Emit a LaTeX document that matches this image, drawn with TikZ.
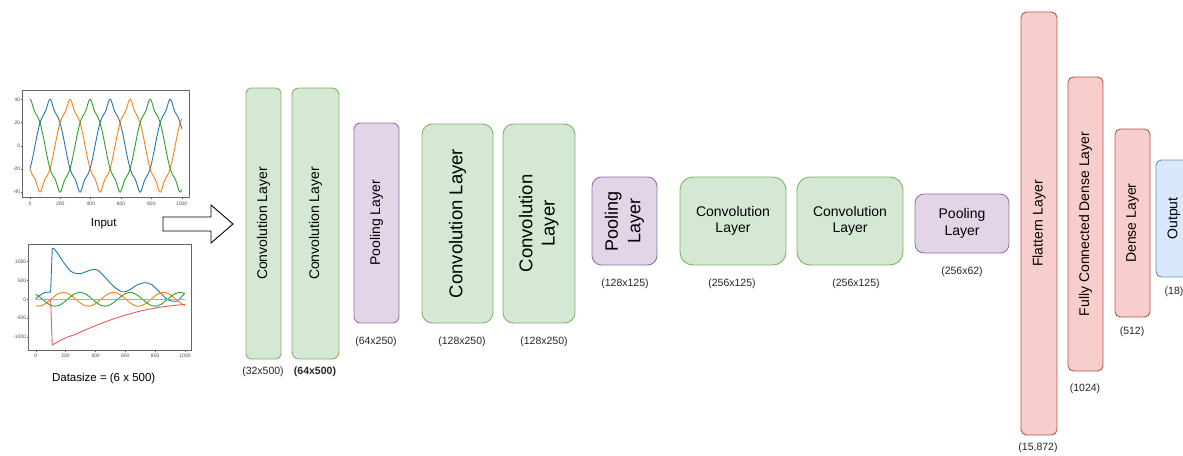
\documentclass[tikz,border=0pt]{standalone}
\usepackage{fontspec}
\setmainfont{Liberation Sans}
\usetikzlibrary{calc}
\definecolor{cfill}{HTML}{D5E8D4}\definecolor{cline}{HTML}{82B366}
\definecolor{pfill}{HTML}{E1D5E7}\definecolor{pline}{HTML}{9673A6}
\definecolor{rfill}{HTML}{F8CECC}\definecolor{rline}{HTML}{B85450}
\definecolor{bfill}{HTML}{DAE8FC}\definecolor{bline}{HTML}{6C8EBF}
\definecolor{mblue}{HTML}{1F77B4}\definecolor{morange}{HTML}{FF7F0E}
\definecolor{mgreen}{HTML}{2CA02C}\definecolor{mred}{HTML}{EC5A58}
\definecolor{mrosy}{HTML}{C8A0A0}
\newcommand{\twoline}[2]{\begin{tabular}{@{}c@{}}#1\\#2\end{tabular}}
\tikzset{
  declare function={pw(\s)=\s*\s*\s*\s*\s*\s*\s*\s*\s*\s*\s*\s*\s*\s*\s;
                    bs(\s)=43*\s-15*\s*\s*\s;
                    g(\a)=bs(sin(\a))+12*pw(sin(\a));},
  layer/.style={draw, line width=0.9pt, inner sep=0pt, align=center, text=black},
  conv/.style={layer, fill=cfill, draw=cline},
  pool/.style={layer, fill=pfill, draw=pline},
  dense/.style={layer, fill=rfill, draw=rline},
  outl/.style={layer, fill=bfill, draw=bline},
  small/.style={font=\fontsize{14}{16.5}\selectfont},
  big/.style={font=\fontsize{18.5}{22.4}\selectfont},
  dim/.style={font=\fontsize{10.5}{12}\selectfont, text=black!85, inner sep=0pt},
  caption/.style={font=\fontsize{11.5}{13}\selectfont, inner sep=0pt},
  tick/.style={font=\fontsize{5}{6}\selectfont, text=black!70, inner sep=0pt},
  frame/.style={draw=black!60, line width=0.6pt},
  curve/.style={line width=0.9pt, line join=round},
}
\begin{document}
\begin{tikzpicture}[x=1pt, y=-1pt]
\path[use as bounding box, fill=white] (0,0) rectangle (1183,455);

% ---------- plot 1 ----------
\begin{scope}[shift={(30,145.7)}, xscale=0.1517, yscale=-1.16]
  \draw[mblue, curve] plot[domain=0:1000, samples=500] (\x,{g((\x-33)*0.909091)});
  \draw[morange, curve] plot[domain=0:1000, samples=500] (\x,{g((\x-165)*0.909091)});
  \draw[mgreen, curve] plot[domain=0:1000, samples=500] (\x,{g((\x-297)*0.909091)});
\end{scope}
\draw[frame] (22.3,90) rectangle (189.3,197.3);
\foreach \v/\l in {40/40,20/20,0/0,-20/-20,-40/-40}{
  \draw[black!60, line width=0.4pt] (22.3,{145.7-1.16*\v}) -- (20.8,{145.7-1.16*\v});
  \node[tick, anchor=east] at (20.3,{145.7-1.16*\v}) {\l};
}
\foreach \t in {0,200,400,600,800,1000}{
  \draw[black!60, line width=0.4pt] ({30+0.1517*\t},197.3) -- ({30+0.1517*\t},198.8);
  \node[tick] at ({30+0.1517*\t},203.3) {\t};
}
\node[caption] (inp) at (103.7,224) {Input};

% ---------- plot 2 ----------
\begin{scope}[shift={(35.7,299.3)}, xscale=0.1493, yscale=-0.0378]
  \draw[mblue, curve] plot[smooth] coordinates {(0,20) (30,110) (62,180) (100,192)}
     -- plot[smooth] coordinates {(111,1350) (125,1330) (150,1200) (190,960) (230,760) (263,690) (300,680) (350,750) (386,790) (420,760) (470,560) (520,350) (576,200) (620,230) (680,380) (732,440) (780,380) (840,150) (888,-20) (944,-50) (975,60) (1000,170)};
  \draw[morange, curve] plot[domain=0:1000, samples=200] (\x,{180*cos((\x-185)*1.074627)});
  \draw[mgreen, curve] plot[domain=0:1000, samples=200] (\x,{180*cos((\x-297)*1.074627)});
  \draw[mred, curve] plot coordinates {(0,0) (100,0)}
     -- plot[smooth] coordinates {(111,-1209) (151,-1120) (200,-1020) (263,-930) (350,-780) (486,-566) (600,-420) (710,-302) (850,-200) (1000,-132)};
  \draw[mrosy, line width=1.6pt] (0,0) -- (1000,0);
\end{scope}
\draw[frame] (28.3,244.3) rectangle (191.7,350);
\foreach \v/\l in {1000/1000,500/500,0/0,-500/-500,-1000/-1000}{
  \draw[black!60, line width=0.4pt] (28.3,{299.3-0.0378*\v}) -- (26.8,{299.3-0.0378*\v});
  \node[tick, anchor=east] at (26.3,{299.3-0.0378*\v}) {\l};
}
\foreach \t in {0,200,400,600,800,1000}{
  \draw[black!60, line width=0.4pt] ({35.7+0.1493*\t},350) -- ({35.7+0.1493*\t},351.5);
  \node[tick] at ({35.7+0.1493*\t},355.5) {\t};
}
\node[caption] (ds) at (103.7,378.3) {Datasize = (6 x 500)};

% ---------- block arrow ----------
\draw[line width=0.9pt, fill=white, line join=miter]
  (163,217) -- (211,217) -- (211,205) -- (233,224) -- (211,243) -- (211,231) -- (163,231) -- cycle;

% ---------- layers ----------
\node[conv, small, minimum width=35pt, minimum height=271pt, rounded corners=5pt] (c1) at (263.5,223.5) {\rotatebox{90}{Convolution Layer}};
\node[conv, small, minimum width=47pt, minimum height=271pt, rounded corners=7pt] (c2) at (315.5,223.5) {\rotatebox{90}{Convolution Layer}};
\node[pool, small, minimum width=45pt, minimum height=200pt, rounded corners=6.5pt] (p1) at (376.5,223) {\rotatebox{90}{Pooling Layer}};
\node[conv, big, minimum width=71pt, minimum height=199pt, rounded corners=10.5pt] (c3) at (457.5,223.5) {\rotatebox{90}{Convolution Layer}};
\node[conv, big, minimum width=72pt, minimum height=199pt, rounded corners=10.5pt] (c4) at (539,223.5) {\rotatebox{90}{\twoline{Convolution}{Layer}}};
\node[pool, font=\fontsize{18}{22.5}\selectfont, minimum width=65pt, minimum height=88pt, rounded corners=9.5pt] (p2) at (624.5,221) {\rotatebox{90}{\twoline{Pooling}{Layer}}};
\node[conv, small, minimum width=106pt, minimum height=88pt, rounded corners=13pt] (c5) at (733,221) {Convolution\\Layer};
\node[conv, small, minimum width=106pt, minimum height=88pt, rounded corners=13pt] (c6) at (850,221) {Convolution\\Layer};
\node[pool, small, minimum width=94pt, minimum height=59pt, rounded corners=9pt] (p3) at (962,223.5) {Pooling\\Layer};
\node[dense, small, minimum width=36pt, minimum height=423pt, rounded corners=5.5pt] (fl) at (1039,223.5) {\rotatebox{90}{Flattern Layer}};
\node[dense, small, minimum width=35pt, minimum height=294pt, rounded corners=5.3pt] (fc) at (1085.5,224) {\rotatebox{90}{Fully Connected Dense Layer}};
\node[dense, small, minimum width=35pt, minimum height=188pt, rounded corners=5.3pt] (de) at (1132.5,223) {\rotatebox{90}{Dense Layer}};
\node[outl, small, minimum width=36pt, minimum height=117pt, rounded corners=5.4pt] (out) at (1174,218.5) {\rotatebox{90}{Output}};

% ---------- dimension labels ----------
\node[dim] (d1) at (263,372) {(32x500)};
\node[dim, font=\fontsize{10.5}{12}\selectfont\bfseries] (d2) at (315,372) {(64x500)};
\node[dim] (d3) at (376,342) {(64x250)};
\node[dim] (d4) at (462,342) {(128x250)};
\node[dim] (d5) at (544,342) {(128x250)};
\node[dim] (d6) at (625,284) {(128x125)};
\node[dim] (d7) at (732,284) {(256x125)};
\node[dim] (d8) at (856,284) {(256x125)};
\node[dim] (d9) at (962,272) {(256x62)};
\node[dim] (d10) at (1038,448) {(15,872)};
\node[dim] (d11) at (1085,389) {(1024)};
\node[dim] (d12) at (1132,332) {(512)};
\node[dim] (d13) at (1174,292) {(18)};
\end{tikzpicture}
\end{document}
